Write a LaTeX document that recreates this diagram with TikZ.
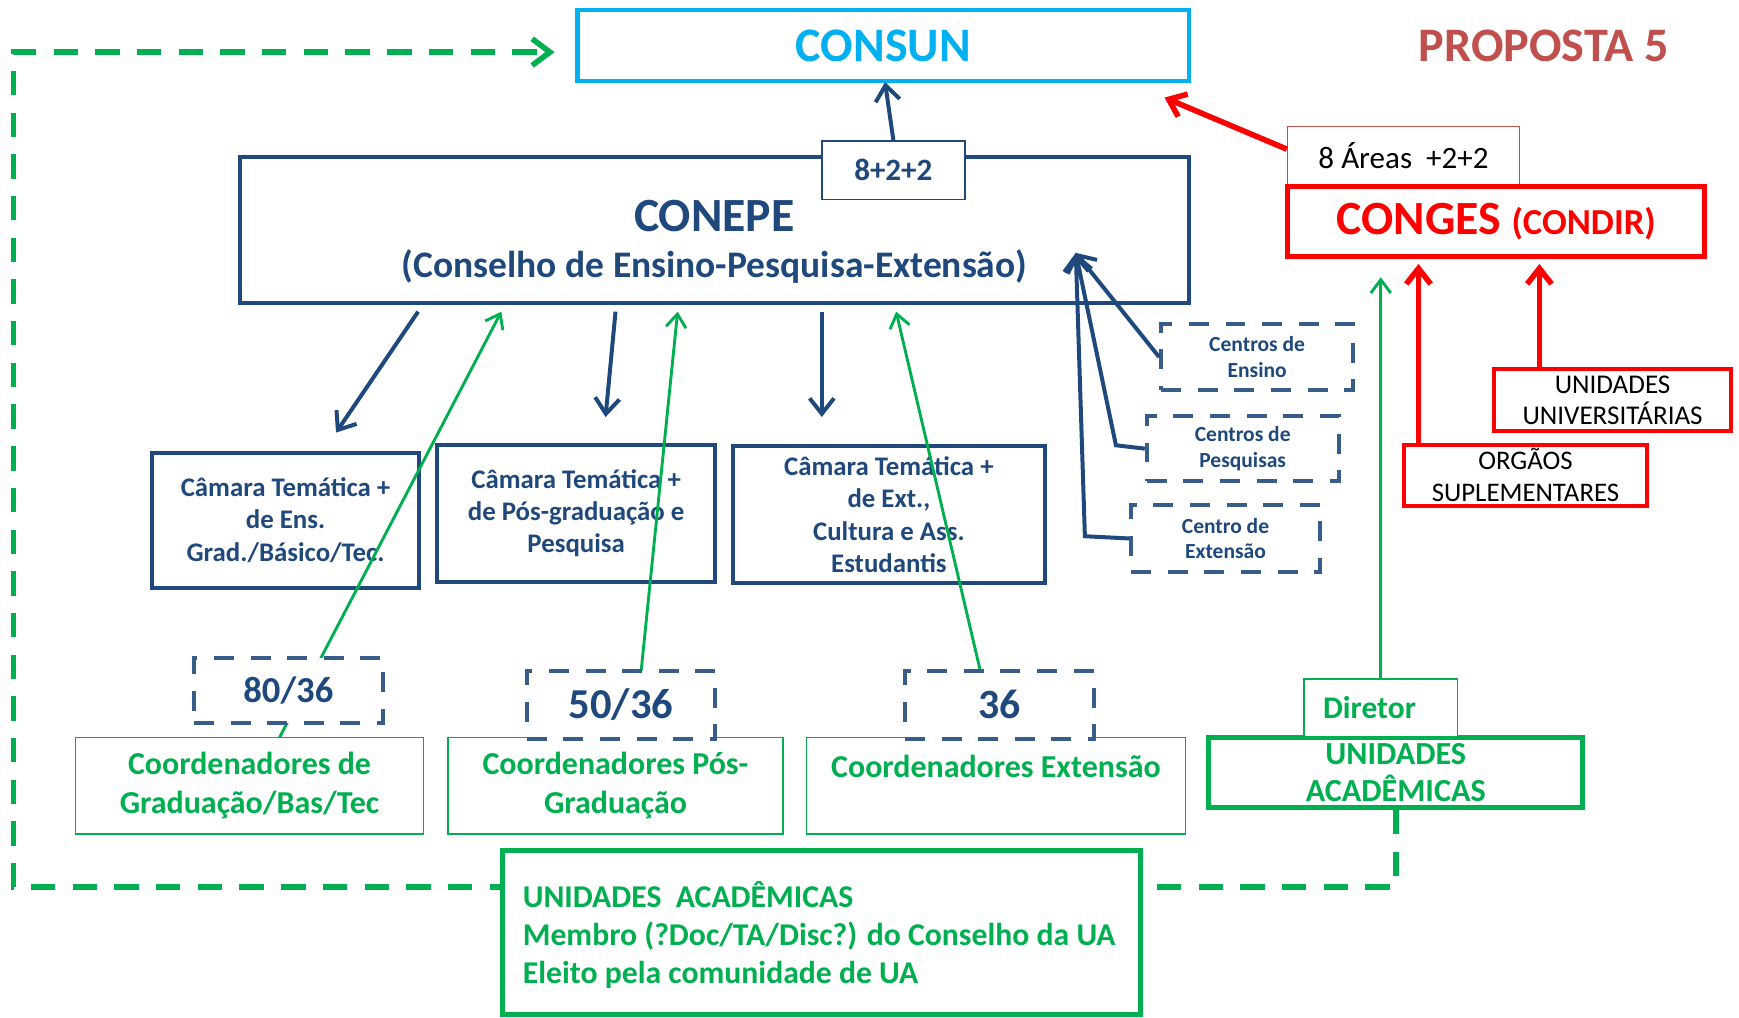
\documentclass[tikz,border=0pt]{standalone}
\usepackage{fontspec}
\setmainfont{Carlito}
\usetikzlibrary{arrows.meta}
\definecolor{cyanC}{HTML}{00B0F0}
\definecolor{navy}{HTML}{1F497D}
\definecolor{dashblue}{HTML}{385D8A}
\definecolor{grn}{HTML}{00B050}
\definecolor{prop}{HTML}{C0504D}
\definecolor{rd}{HTML}{FF0000}
\tikzset{
  box/.style={draw, fill=white, inner sep=0pt, align=center},
  navybox/.style={box, draw=navy, line width=1.8pt, text=navy},
  dbox/.style={box, draw=dashblue, line width=1.8pt, dash pattern=on 9pt off 7.5pt, text=navy},
  redbox/.style={box, draw=rd, line width=1.8pt},
  gthin/.style={box, draw=grn, line width=0.7pt, text=grn},
  gthick/.style={box, draw=grn, line width=2.2pt, text=grn},
  barrow/.style={draw=navy, line width=1.8pt, -{Straight Barb[length=7pt,width=11pt]}},
  rarrow/.style={draw=rd, line width=2.5pt, -{Straight Barb[length=7pt,width=11pt]}},
  garrow/.style={draw=grn, line width=1.3pt, -{Straight Barb[length=6pt,width=9pt]}},
  gdash/.style={draw=grn, line width=2.5pt, dash pattern=on 11pt off 7.8pt, -{Straight Barb[length=8pt,width=12pt]}},
  cline/.style={draw=navy, line width=1.8pt, -{Straight Barb[length=7pt,width=11pt]}},
}
\begin{document}
\begin{tikzpicture}[x=0.5pt,y=-0.5pt]
\useasboundingbox (0,0) rectangle (1568,917);

% coordinates for free ends
\coordinate (dc1) at (12,800);
\coordinate (dc2) at (12,47);
\coordinate (dend) at (500,47);
\coordinate (c822) at (798,74);
\coordinate (b1s) at (377,281); \coordinate (b1e) at (303,390);
\coordinate (b2s) at (555,281); \coordinate (b2e) at (546,376);
\coordinate (b3s) at (741,281); \coordinate (b3e) at (741,376);
\coordinate (ctip) at (970,228);
\coordinate (g1s) at (252,665); \coordinate (g1e) at (452,281);
\coordinate (g2s) at (572,665); \coordinate (g2e) at (611,281);
\coordinate (g3s) at (898,665); \coordinate (g3e) at (808,281);
\coordinate (rtip) at (1050,88);
\coordinate (rA) at (1279,238);
\coordinate (rB) at (1388,238);
\coordinate (gD) at (1245,250);

% right-side academic unit (needed for dashed path)
\node[gthick, minimum width=168.5pt, minimum height=31.5pt, font=\bfseries\fontsize{14.5}{17}\selectfont] (uaR) at (1258.5,696.5) {UNIDADES\\ACADÊMICAS};

% green dashed feedback line
\draw[gdash] (uaR.south) |- (dc1) -- (dc2) -- (dend);

% top
\node[box, draw=cyanC, line width=2.1pt, text=cyanC, minimum width=275.5pt, minimum height=32pt, font=\bfseries\fontsize{21.7}{25}\selectfont] (consun) at (796.5,41) {CONSUN};
\node[text=prop, inner sep=0pt, font=\bfseries\fontsize{21.7}{25}\selectfont] (prop5) at (1392,41) {PROPOSTA 5};

\node[navybox, minimum width=428pt, minimum height=65.5pt] (conepe) at (644,207.5) {};
\node[text=navy, inner sep=0pt, font=\bfseries\fontsize{21.5}{25}\selectfont] (conepeT) at (644,195) {CONEPE};
\node[text=navy, inner sep=0pt, font=\bfseries\fontsize{16.9}{20}\selectfont] (conepeS) at (644,240) {(Conselho de Ensino-Pesquisa-Extensão)};
\node[box, draw=navy, line width=0.7pt, text=navy, minimum width=64.5pt, minimum height=26.5pt, font=\bfseries\fontsize{14}{16}\selectfont] (box822) at (805.5,153.5) {8+2+2};

\draw[barrow] (box822.north) -- (c822);
\draw[barrow] (b1s) -- (b1e);
\draw[barrow] (b2s) -- (b2e);
\draw[barrow] (b3s) -- (b3e);

% camaras
\node[navybox, minimum width=120.5pt, minimum height=61pt, font=\bfseries\fontsize{12.1}{14.5}\selectfont] (cam1) at (257.5,469) {Câmara Temática +\\de Ens.\\Grad./Básico/Tec.};
\node[navybox, minimum width=125.5pt, minimum height=62pt, font=\bfseries\fontsize{12.1}{14.5}\selectfont] (cam2) at (519.5,463) {Câmara Temática +\\de Pós-graduação e\\Pesquisa};
\node[navybox, minimum width=140.5pt, minimum height=62pt, font=\bfseries\fontsize{12.1}{14.5}\selectfont] (cam3) at (801.5,464) {Câmara Temática +\\de Ext.,\\Cultura e Ass.\\Estudantis};

% centros
\node[dbox, minimum width=86.5pt, minimum height=30pt, font=\bfseries\fontsize{9.7}{11.5}\selectfont] (censino) at (1133.5,322) {Centros de\\Ensino};
\node[dbox, minimum width=86.5pt, minimum height=29.5pt, font=\bfseries\fontsize{9.7}{11.5}\selectfont] (cpesq) at (1120.5,404.5) {Centros de\\Pesquisas};
\node[dbox, minimum width=85pt, minimum height=30.5pt, font=\bfseries\fontsize{9.7}{11.5}\selectfont] (cext) at (1105,485.5) {Centro de\\Extensão};
\draw[cline] (censino.west) -- (ctip);
\draw[cline] (cpesq.west) -- ++(-26,-3) -- (ctip);
\draw[cline] (cext.west) -- ++(-40,-2) -- (ctip);

% green lines to CONEPE
\draw[garrow] (g1s) -- (g1e);
\draw[garrow] (g2s) -- (g2e);
\draw[garrow] (g3s) -- (g3e);

% coordenadores
\node[gthin, minimum width=157pt, minimum height=43.5pt, font=\bfseries\fontsize{14.4}{17.5}\selectfont] (coord1) at (225,708.5) {Coordenadores de\\Graduação/Bas/Tec};
\node[gthin, minimum width=151pt, minimum height=43.5pt, font=\bfseries\fontsize{14.4}{17.5}\selectfont] (coord2) at (555,708.5) {Coordenadores Pós-\\Graduação};
\node[gthin, minimum width=171pt, minimum height=43.5pt, font=\bfseries\fontsize{14.4}{17.5}\selectfont] (coord3) at (898,708.5) {Coordenadores Extensão\\\mbox{}};

% number boxes
\node[dbox, minimum width=85pt, minimum height=29.5pt, font=\bfseries\fontsize{16.5}{19}\selectfont] (n1) at (260,622.5) {80/36};
\node[dbox, minimum width=85pt, minimum height=30.5pt, font=\bfseries\fontsize{19.2}{22}\selectfont] (n2) at (560,635.5) {50/36};
\node[dbox, minimum width=85pt, minimum height=30.5pt, font=\bfseries\fontsize{18.8}{22}\selectfont] (n3) at (901,635.5) {36};

% right side
\node[box, draw=prop, line width=0.7pt, minimum width=104.5pt, minimum height=26.5pt, font=\fontsize{14}{16}\selectfont] (areas) at (1265.5,140.5) {8 Áreas\ \ +2+2};
\node[redbox, line width=2.2pt, text=rd, minimum width=188pt, minimum height=31.5pt, font=\bfseries\fontsize{21.5}{24}\selectfont] (conges) at (1349,199.5) {CONGES {\fontsize{16.5}{19}\selectfont(CONDIR)}};
\node[redbox, minimum width=107pt, minimum height=28pt, font=\fontsize{12.2}{14}\selectfont] (univ) at (1454,361) {UNIDADES\\UNIVERSITÁRIAS};
\node[redbox, minimum width=109.5pt, minimum height=27.5pt, font=\fontsize{12.1}{14.5}\selectfont] (orgaos) at (1375.5,428.5) {ORGÃOS\\SUPLEMENTARES};
\draw[rarrow] ([yshift=3pt]areas.west) -- (rtip);
\draw[rarrow] (orgaos.north -| rA) -- (rA);
\draw[rarrow] (univ.north -| rB) -- (rB);

\node[gthin, minimum width=69pt, minimum height=26pt, text width=52pt, inner xsep=8.5pt, align=left, font=\bfseries\fontsize{14.2}{17}\selectfont] (diretor) at (1245,638) {Diretor};
\draw[garrow] (diretor.north) -- (gD);

% bottom box
\node[gthick, minimum width=287.5pt, minimum height=74pt] (uaB) at (740.5,841) {};
\node[anchor=west, inner sep=0pt, align=left, text=grn, font=\bfseries\fontsize{14.3}{17.25}\selectfont] (uaBT) at (471,843) {UNIDADES\ \ ACADÊMICAS\\Membro (?Doc/TA/Disc?) do Conselho da UA\\Eleito pela comunidade de UA};
\end{tikzpicture}
\end{document}
